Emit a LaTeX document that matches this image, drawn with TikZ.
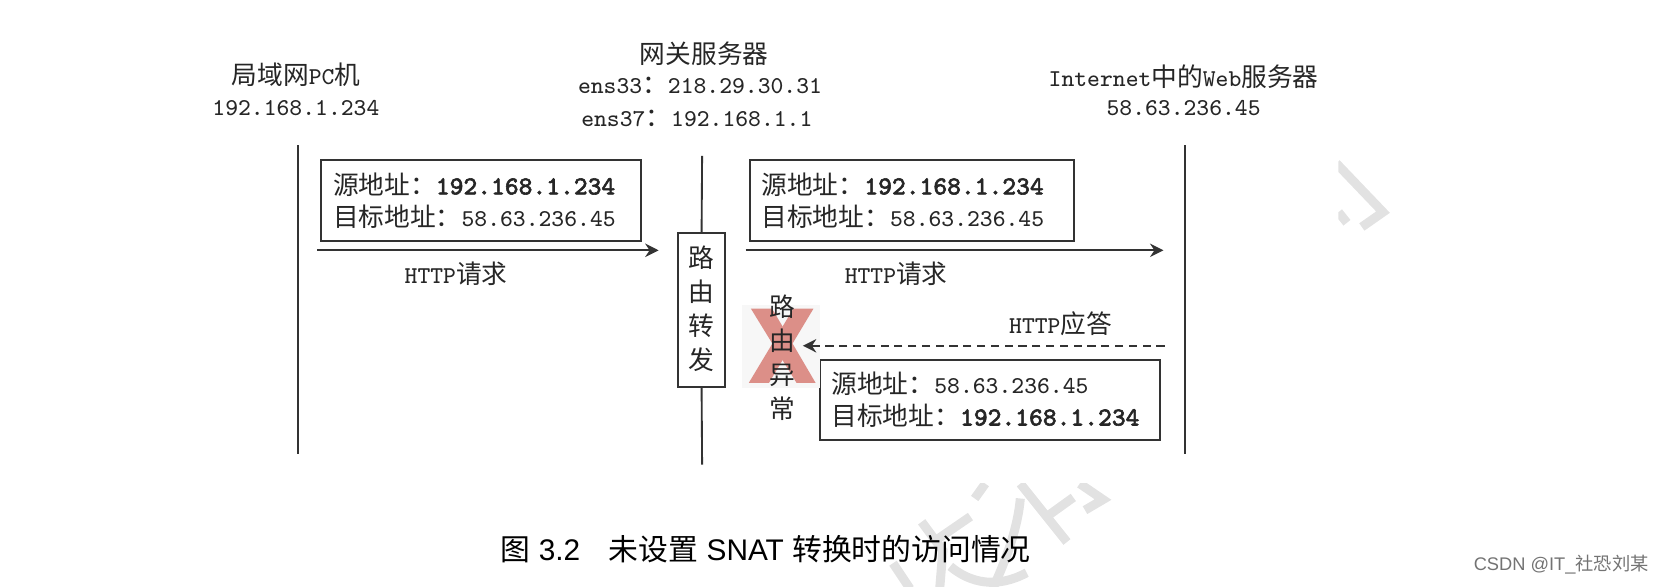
\documentclass[tikz,border=0pt]{standalone}
\usepackage{fontspec}
\usepackage{tikz}
\usetikzlibrary{arrows.meta,positioning}
\setmainfont{Liberation Sans}
\setmonofont{Latin Modern Mono}[Scale=0.94]
\newfontfamily\cjk{Noto Sans CJK SC}
\newfontfamily\heavytt{Latin Modern Mono}[Scale=1.01,FakeBold=2.2]
\newcommand{\zh}[1]{{\cjk #1}}
\newcommand{\ip}[1]{{\ttfamily #1}}
\newcommand{\ipb}[1]{{\heavytt #1}}
\definecolor{inkline}{HTML}{333333}
\definecolor{crossred}{HTML}{DC8F88}
\definecolor{markgray}{HTML}{E2E2E2}
\tikzset{
  every node/.style={font=\fontsize{6.9pt}{8.5pt}\selectfont, text=black!85},
  ttlabel/.style={font=\fontsize{6.9pt}{8.5pt}\selectfont\ttfamily, inner sep=0pt},
  lifeline/.style={draw=inkline, line width=0.5pt},
  addrbox/.style={draw=inkline, line width=0.55pt, fill=white, inner ysep=0pt, inner xsep=0.11cm, minimum height=0.76cm, align=left},
  msg/.style={-{Stealth[length=3.6pt,width=3.6pt]}, draw=inkline, line width=0.55pt},
  vtext/.style={font=\fontsize{6.9pt}{9.1pt}\selectfont, inner sep=0pt, align=center},
  stroke/.style={draw=markgray, line width=0.085cm}
}
\begin{document}
\begin{tikzpicture}[>=Stealth]
\path[use as bounding box] (0,0) rectangle (15.68,-5.53);
\begin{scope}
\clip (8.2,-4.56) rectangle (10.6,-5.53);
\draw[stroke] (9.62,-4.56) -- (10.06,-5.11);
\draw[stroke] (9.29,-4.56) -- (9.19,-4.70);
\draw[stroke] (9.62,-4.70) .. controls (9.60,-4.95) and (9.50,-5.25) .. (9.36,-5.55);
\draw[stroke] (10.18,-4.56) -- (10.40,-4.71) -- (10.23,-4.81);
\draw[stroke] (10.12,-4.69) -- (9.87,-4.87);
\draw[stroke] (8.42,-5.31) -- (8.58,-5.55);
\draw[stroke] (9.15,-4.87) -- (8.83,-5.09);
\draw[stroke] (8.69,-4.92) -- (8.89,-5.19) -- (8.86,-5.55);
\draw[stroke] (8.96,-5.34) .. controls (9.15,-5.50) and (9.40,-5.55) .. (9.68,-5.40);
\end{scope}
\begin{scope}
\clip (12.62,-1.5) rectangle (13.2,-2.3);
\draw[stroke] (12.60,-1.54) -- (13.04,-2.00) -- (12.84,-2.14);
\draw[stroke] (12.62,-2.00) -- (12.70,-2.10);
\end{scope}
% hosts
\node[inner sep=0pt] (pc) at (2.79,-0.70) {\zh{局域网}\ip{PC}\zh{机}};
\node[ttlabel] (pcip) at (2.79,-1.02) {192.168.1.234};
\node[inner sep=0pt] (gw) at (6.64,-0.51) {\zh{网关服务器}};
\node[ttlabel] (gwa) at (6.60,-0.81) {ens33\zh{：}218.29.30.31};
\node[ttlabel] (gwb) at (6.57,-1.12) {ens37\zh{：}192.168.1.1};
\node[inner sep=0pt] (web) at (11.16,-0.72) {\ip{Internet}\zh{中的}\ip{Web}\zh{服务器}};
\node[ttlabel] (webip) at (11.16,-1.02) {58.63.236.45};
% lifelines
\coordinate (pctop) at (2.81,-1.37);
\coordinate (pcbot) at (2.81,-4.28);
\coordinate (gwtop) at (6.62,-1.47);
\coordinate (gwbot) at (6.62,-4.38);
\coordinate (webtop) at (11.17,-1.37);
\coordinate (webbot) at (11.17,-4.28);
\node[draw=inkline, line width=0.55pt, fill=white, minimum width=0.45cm, minimum height=1.45cm, inner sep=0pt] (relay) at (6.615,-2.925) {};
\node[vtext, below=0.12cm of relay.north] (relaytxt) {\zh{路}\\\zh{由}\\\zh{转}\\\zh{发}};
\draw[lifeline] (pctop) -- (pcbot);
\draw[lifeline] (gwtop) -- (relay.north);
\draw[lifeline] (relay.south) -- (gwbot);
\draw[lifeline] (webtop) -- (webbot);
% address boxes
\node[addrbox, text width=2.79cm] (req1) at (4.535,-1.89) {\zh{源地址：}\ipb{192.168.1.234}\\\zh{目标地址：}\ip{58.63.236.45}};
\node[addrbox, text width=2.84cm] (req2) at (8.60,-1.89) {\zh{源地址：}\ipb{192.168.1.234}\\\zh{目标地址：}\ip{58.63.236.45}};
\node[addrbox, text width=2.99cm] (resp) at (9.335,-3.77) {\zh{源地址：}\ip{58.63.236.45}\\\zh{目标地址：}\ipb{192.168.1.234}};
% requests
\coordinate (a1) at (2.99,-2.36);
\coordinate (b1) at (6.21,-2.36);
\coordinate (a2) at (7.03,-2.36);
\coordinate (b2) at (10.97,-2.36);
\draw[msg] (a1) -- (b1);
\draw[msg] (a2) -- (b2);
\node[inner sep=0pt] (http1) at (4.30,-2.58) {\ip{HTTP}\zh{请求}};
\node[inner sep=0pt] (http2) at (8.45,-2.58) {\ip{HTTP}\zh{请求}};
% blocked answer
\fill[black!3] (7.00,-2.88) rectangle (7.73,-3.66);
\fill[crossred] (7.08,-2.91) -- (7.28,-2.91) -- (7.69,-3.61) -- (7.51,-3.61) -- cycle;
\fill[crossred] (7.48,-2.91) -- (7.67,-2.91) -- (7.25,-3.61) -- (7.06,-3.61) -- cycle;
\node[vtext] (fail) at (7.38,-3.37) {\zh{路}\\\zh{由}\\\zh{异}\\\zh{常}};
\coordinate (c1) at (10.98,-3.26);
\coordinate (c2) at (7.57,-3.26);
\draw[msg, dashed, dash pattern=on 2.2pt off 1.5pt] (c1) -- (c2);
\node[inner sep=0pt] (http3) at (10.00,-3.05) {\ip{HTTP}\zh{应答}};
% caption and mark
\node[inner sep=0pt, font=\fontsize{8pt}{9pt}\selectfont, text=black] (cap) at (7.22,-5.18) {\zh{图} 3.2\hspace{0.27cm}\zh{未设置} SNAT \zh{转换时的访问情况}};
\node[inner sep=0pt, font=\fontsize{4.9pt}{6pt}\selectfont, text=black!55] (csdn) at (14.72,-5.32) {CSDN @IT\_\zh{社恐刘某}};
\end{tikzpicture}
\end{document}
